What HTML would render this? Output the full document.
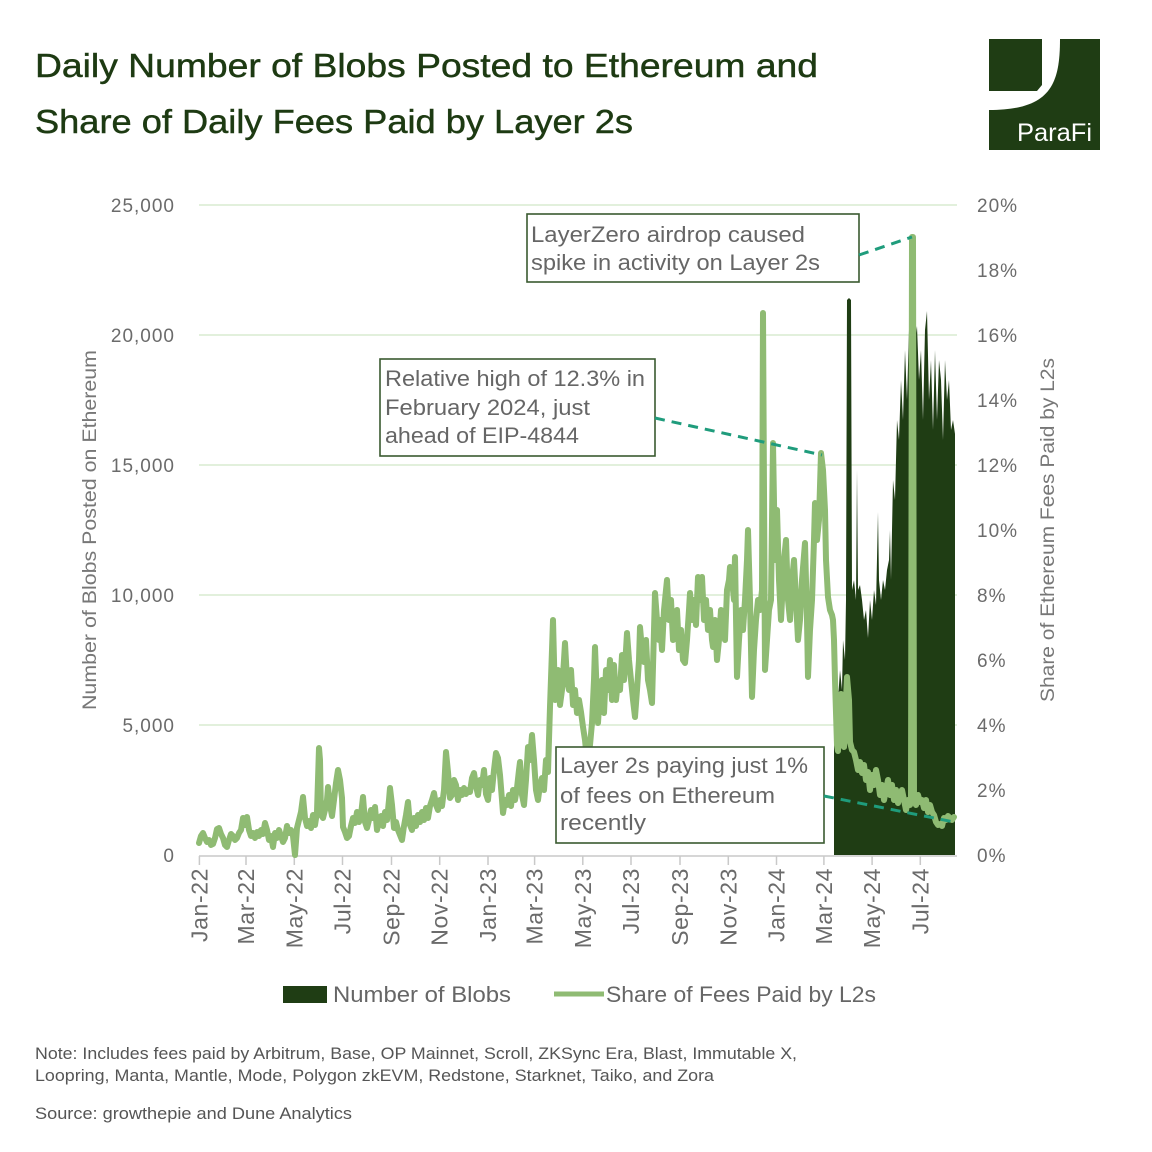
<!DOCTYPE html>
<html><head><meta charset="utf-8"><style>html,body{margin:0;padding:0;background:#fff}svg{display:block}</style></head>
<body>
<svg width="1152" height="1152" viewBox="0 0 1152 1152" xmlns="http://www.w3.org/2000/svg" font-family="'Liberation Sans', Arial, sans-serif">
<rect width="1152" height="1152" fill="#fff"/>
<!-- Title -->
<g fill="#1d3a12" stroke="#1d3a12" stroke-width="0.45">
<text x="35" y="77" font-size="33" textLength="783" lengthAdjust="spacingAndGlyphs">Daily Number of Blobs Posted to Ethereum and</text>
<text x="35" y="133" font-size="33" textLength="598" lengthAdjust="spacingAndGlyphs">Share of Daily Fees Paid by Layer 2s</text>
</g>
<!-- Logo -->
<rect x="989" y="39" width="111" height="111" fill="#1f3d14"/>
<path d="M989,39 L1060,39 C1060,85 1050,110 989,110 Z" fill="#fff"/>
<polygon points="989,39 1042,39 1042,85 1037,91 989,91" fill="#1f3d14"/>
<text x="1017" y="141" font-size="25" fill="#fff" textLength="75" lengthAdjust="spacingAndGlyphs">ParaFi</text>

<!-- Gridlines -->
<g stroke="#d8ebd0" stroke-width="1.5">
<line x1="199" y1="205" x2="957" y2="205"/>
<line x1="199" y1="335" x2="957" y2="335"/>
<line x1="199" y1="465" x2="957" y2="465"/>
<line x1="199" y1="595" x2="957" y2="595"/>
<line x1="199" y1="725" x2="957" y2="725"/>
</g>
<!-- x axis -->
<g stroke="#c9c9c9" stroke-width="1.5">
<line x1="199" y1="856" x2="957" y2="856"/>
<line x1="199.4" y1="856" x2="199.4" y2="865"/>
<line x1="246" y1="856" x2="246" y2="865"/>
<line x1="294.3" y1="856" x2="294.3" y2="865"/>
<line x1="342.5" y1="856" x2="342.5" y2="865"/>
<line x1="391.5" y1="856" x2="391.5" y2="865"/>
<line x1="439.7" y1="856" x2="439.7" y2="865"/>
<line x1="488" y1="856" x2="488" y2="865"/>
<line x1="534.6" y1="856" x2="534.6" y2="865"/>
<line x1="582.8" y1="856" x2="582.8" y2="865"/>
<line x1="631" y1="856" x2="631" y2="865"/>
<line x1="680" y1="856" x2="680" y2="865"/>
<line x1="728.3" y1="856" x2="728.3" y2="865"/>
<line x1="776.5" y1="856" x2="776.5" y2="865"/>
<line x1="823.9" y1="856" x2="823.9" y2="865"/>
<line x1="872.1" y1="856" x2="872.1" y2="865"/>
<line x1="920.3" y1="856" x2="920.3" y2="865"/>
</g>

<!-- Blobs area -->
<polygon fill="#1f3d14" points="834,855 834,690 836,680 838,700 840,670 842,690 843,640 845,660 846,600 847,300 849,298 851,300 852,590 854,580 856,600 857,470 858,590 860,585 862,600 864,620 866,610 868,638 870,600 872,620 874,590 876,605 878,512 879,580 881,600 883,580 885,590 887,570 889,560 890,530 891,580 893,480 895,500 897,420 899,440 901,380 903,420 905,350 907,400 909,330 911,380 913,360 915,340 917,326 919,380 921,350 923,420 925,330 927,311 929,400 931,360 933,430 935,350 937,420 939,360 941,380 943,440 945,360 947,400 949,380 951,430 953,420 955,434 955,855"/>

<!-- Share line -->
<polyline fill="none" stroke="#8fbb73" stroke-width="6" stroke-linejoin="round" stroke-linecap="round" points="199,843 201,836 203,833 205,838 207,842 209,840 211,845 213,844 215,838 217,829 219,828 221,834 223,838 225,845 227,847 229,840 231,834 233,836 235,840 237,838 239,833 241,830 243,818 245,825 247,817 249,830 251,836 253,833 255,838 257,832 259,836 261,830 263,834 265,823 267,830 269,840 271,836 273,847 275,833 277,838 279,830 281,836 283,842 285,838 287,826 289,833 291,830 293,836 295,855 297,828 299,820 301,812 303,797 305,818 307,826 309,821 311,828 313,815 315,825 317,812 319,748 320,760 321,815 323,818 325,810 327,800 328,787 330,805 332,816 334,800 336,783 338,770 340,780 342,798 343,827 345,832 347,838 349,836 351,826 353,818 355,823 357,812 359,822 361,815 363,797 365,822 367,828 369,820 371,810 373,818 375,807 377,830 379,822 381,816 383,826 385,812 387,820 389,800 390,788 392,805 394,828 396,822 398,830 400,835 402,840 404,826 406,815 408,802 410,825 412,830 414,818 416,826 418,815 420,822 422,812 424,820 426,808 428,818 430,806 432,800 434,793 436,805 438,810 440,800 442,806 444,790 446,752 448,772 450,798 452,795 454,780 456,785 458,800 460,790 462,795 464,788 466,794 468,790 470,792 472,778 474,773 476,786 478,795 480,780 482,785 484,770 486,794 488,800 490,778 492,790 494,770 496,753 498,758 500,775 502,800 503,813 505,800 507,805 509,795 511,806 513,790 515,800 517,788 519,770 520,762 522,795 524,805 526,780 528,747 530,760 532,735 534,760 536,790 538,800 540,785 542,778 544,790 546,760 548,772 550,707 552,650 553,620 555,700 557,690 558,670 560,705 562,690 564,660 565,643 567,680 569,690 571,670 573,705 575,690 577,713 579,700 581,712 583,727 585,740 587,760 588,757 590,745 592,723 594,680 595,647 597,700 598,723 600,690 602,680 604,713 606,670 608,690 610,660 612,700 614,665 616,700 618,680 620,690 622,655 624,680 626,650 627,633 629,660 631,680 633,700 635,717 637,690 639,660 640,627 642,650 644,662 646,640 648,680 650,690 652,703 654,630 655,593 657,620 659,640 660,620 662,650 664,610 666,590 667,580 669,620 671,600 673,640 675,620 677,610 679,650 681,630 683,660 685,663 687,640 689,610 690,593 692,620 694,600 696,625 698,577 700,600 702,577 704,620 706,600 708,630 710,610 712,640 713,647 715,620 717,660 719,640 721,610 723,625 725,640 727,590 729,580 730,567 732,580 734,600 735,557 737,677 739,640 741,610 743,630 745,600 747,560 748,530 750,600 752,697 754,650 756,620 758,600 760,610 762,590 763,313 765,670 767,640 769,610 771,600 773,443 775,560 777,510 779,580 781,620 782,600 784,560 786,540 788,600 790,620 792,580 794,560 796,600 798,640 800,620 802,580 805,543 807,620 808,677 810,630 812,600 814,540 815,503 817,540 819,520 821,453 823,470 825,510 826,560 828,597 830,610 832,615 833,620 834,640 835,680 837,745 838,751 840,700 841,694 843,745 844,747 846,700 847,677 849,700 850,742 852,750 854,752 856,760 858,770 860,762 862,773 864,765 866,780 868,772 870,790 872,775 874,785 876,770 878,780 880,795 882,785 884,800 886,790 888,780 890,795 892,785 894,800 896,790 898,803 900,795 902,790 904,800 906,810 908,800 910,805 911,800 912,237 913,237 914,800 916,805 918,795 920,802 922,800 924,808 926,800 928,812 930,805 932,812 934,815 936,822 938,825 940,824 942,826 944,818 946,820 948,816 950,818 952,820 954,817"/>

<!-- Annotations -->
<g fill="#fff" stroke="#3a5a30" stroke-width="1.6">
<rect x="527" y="214" width="332" height="68"/>
<rect x="380" y="359" width="275" height="97"/>
<rect x="556" y="747" width="268" height="96"/>
</g>
<g stroke="#1f9c7c" stroke-width="3" stroke-dasharray="10,7" fill="none">
<line x1="859" y1="255" x2="912" y2="237"/>
<line x1="655" y1="418" x2="822" y2="455"/>
<line x1="824" y1="796" x2="954" y2="822"/>
</g>
<g fill="#666" font-size="22">
<text x="531" y="242" textLength="274" lengthAdjust="spacingAndGlyphs">LayerZero airdrop caused</text>
<text x="531" y="270" textLength="289" lengthAdjust="spacingAndGlyphs">spike in activity on Layer 2s</text>
<text x="385" y="386" textLength="260" lengthAdjust="spacingAndGlyphs">Relative high of 12.3% in</text>
<text x="385" y="415" textLength="205" lengthAdjust="spacingAndGlyphs">February 2024, just</text>
<text x="385" y="443" textLength="194" lengthAdjust="spacingAndGlyphs">ahead of EIP-4844</text>
<text x="560" y="773" textLength="248" lengthAdjust="spacingAndGlyphs">Layer 2s paying just 1%</text>
<text x="560" y="803" textLength="215" lengthAdjust="spacingAndGlyphs">of fees on Ethereum</text>
<text x="560" y="830" textLength="86" lengthAdjust="spacingAndGlyphs">recently</text>
</g>

<!-- Left tick labels -->
<g fill="#6b6b6b" font-size="19" letter-spacing="1" text-anchor="end">
<text x="175" y="212">25,000</text>
<text x="175" y="342">20,000</text>
<text x="175" y="472">15,000</text>
<text x="175" y="602">10,000</text>
<text x="175" y="732">5,000</text>
<text x="175" y="862">0</text>
</g>
<!-- Right tick labels -->
<g fill="#6b6b6b" font-size="19" letter-spacing="1">
<text x="977" y="212">20%</text>
<text x="977" y="277">18%</text>
<text x="977" y="342">16%</text>
<text x="977" y="407">14%</text>
<text x="977" y="472">12%</text>
<text x="977" y="537">10%</text>
<text x="977" y="602">8%</text>
<text x="977" y="667">6%</text>
<text x="977" y="732">4%</text>
<text x="977" y="797">2%</text>
<text x="977" y="862">0%</text>
</g>
<!-- Axis titles -->
<text transform="translate(96,530) rotate(-90)" text-anchor="middle" font-size="19" fill="#777" textLength="360" lengthAdjust="spacingAndGlyphs">Number of Blobs Posted on Ethereum</text>
<text transform="translate(1054,530) rotate(-90)" text-anchor="middle" font-size="19" fill="#777" textLength="344" lengthAdjust="spacingAndGlyphs">Share of Ethereum Fees Paid by L2s</text>

<!-- X labels -->
<g fill="#6b6b6b" font-size="23" letter-spacing="0.6" text-anchor="end">
<text transform="translate(207.4,868) rotate(-90)">Jan-22</text>
<text transform="translate(254,868) rotate(-90)">Mar-22</text>
<text transform="translate(302.3,868) rotate(-90)">May-22</text>
<text transform="translate(350.5,868) rotate(-90)">Jul-22</text>
<text transform="translate(399.5,868) rotate(-90)">Sep-22</text>
<text transform="translate(447.7,868) rotate(-90)">Nov-22</text>
<text transform="translate(496,868) rotate(-90)">Jan-23</text>
<text transform="translate(542.6,868) rotate(-90)">Mar-23</text>
<text transform="translate(590.8,868) rotate(-90)">May-23</text>
<text transform="translate(639,868) rotate(-90)">Jul-23</text>
<text transform="translate(688,868) rotate(-90)">Sep-23</text>
<text transform="translate(736.3,868) rotate(-90)">Nov-23</text>
<text transform="translate(784.5,868) rotate(-90)">Jan-24</text>
<text transform="translate(831.9,868) rotate(-90)">Mar-24</text>
<text transform="translate(880.1,868) rotate(-90)">May-24</text>
<text transform="translate(928.3,868) rotate(-90)">Jul-24</text>
</g>

<!-- Legend -->
<rect x="283" y="986" width="44" height="17" fill="#1f3d14"/>
<text x="333" y="1002" font-size="22" fill="#666" textLength="178" lengthAdjust="spacingAndGlyphs">Number of Blobs</text>
<line x1="554" y1="994" x2="604" y2="994" stroke="#8fbb73" stroke-width="5"/>
<text x="606" y="1002" font-size="22" fill="#666" textLength="270" lengthAdjust="spacingAndGlyphs">Share of Fees Paid by L2s</text>

<!-- Footnotes -->
<g fill="#555" font-size="17">
<text x="35" y="1059" textLength="762" lengthAdjust="spacingAndGlyphs">Note: Includes fees paid by Arbitrum, Base, OP Mainnet, Scroll, ZKSync Era, Blast, Immutable X,</text>
<text x="35" y="1081" textLength="679" lengthAdjust="spacingAndGlyphs">Loopring, Manta, Mantle, Mode, Polygon zkEVM, Redstone, Starknet, Taiko, and Zora</text>
<text x="35" y="1119" textLength="317" lengthAdjust="spacingAndGlyphs">Source: growthepie and Dune Analytics</text>
</g>
</svg>
</body></html>
